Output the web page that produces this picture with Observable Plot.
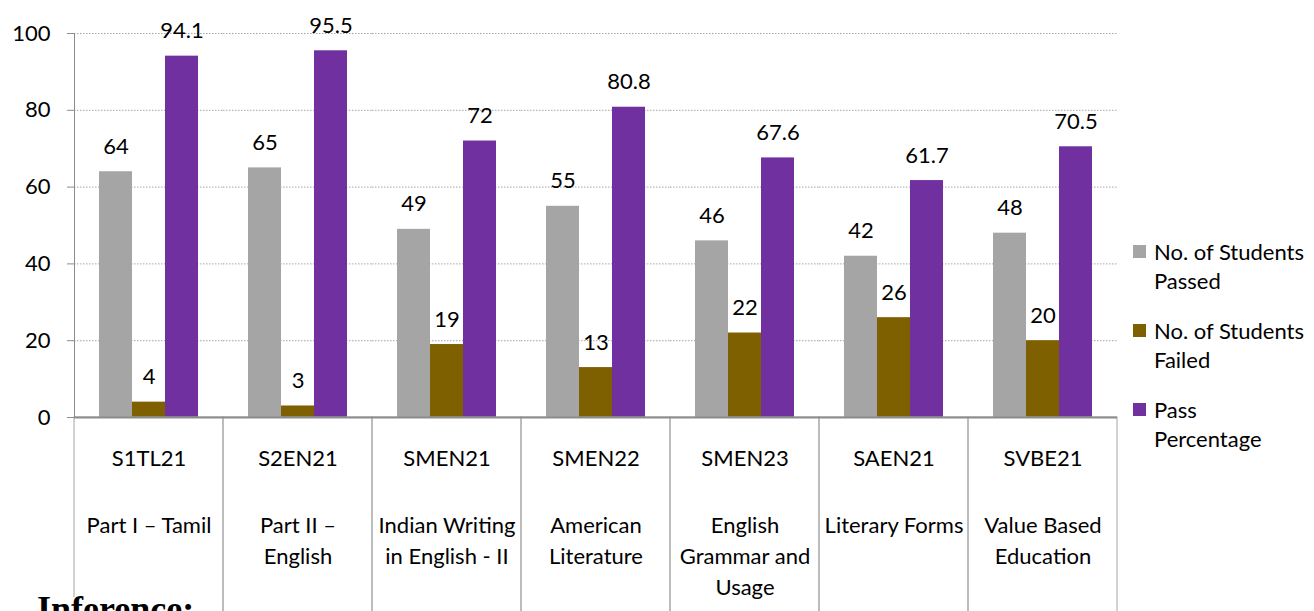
<!DOCTYPE html>
<html>
<head>
<meta charset="utf-8">
<script src="https://cdn.jsdelivr.net/npm/d3@7"></script>
<script src="https://cdn.jsdelivr.net/npm/@observablehq/plot@0.6"></script>
<style>
  html, body { margin: 0; padding: 0; background: #fff; }
  #wrap { position: relative; width: 1314px; height: 611px; overflow: hidden; font-family: Lato, sans-serif; }
  #legend { position: absolute; left: 1133px; top: 237px; font-size: 22px; line-height: 29px; color: #000; }
  .entry { display: flex; align-items: flex-start; margin-bottom: 21px; }
  .sw { width: 13px; height: 13px; margin-top: 8px; margin-right: 8px; flex: none; }
  #inference { position: absolute; left: 37px; top: 597px; font-family: "Liberation Serif", serif; font-weight: bold; font-size: 36px; line-height: 24px; background: #fff; color: #000; }
</style>
</head>
<body>
<div id="wrap">
  <div id="chart"></div>
  <div id="legend"></div>
  <div id="inference">Inference:</div>
</div>
<script>
// ---- data ----
const codes = ["S1TL21", "S2EN21", "SMEN21", "SMEN22", "SMEN23", "SAEN21", "SVBE21"];
const names = ["Part I – Tamil", "Part II –\nEnglish", "Indian Writing\nin English - II", "American\nLiterature", "English\nGrammar and\nUsage", "Literary Forms", "Value Based\nEducation"];
const seriesNames = ["No. of Students Passed", "No. of Students Failed", "Pass Percentage"];
const legendLines = [["No. of Students", "Passed"], ["No. of Students", "Failed"], ["Pass", "Percentage"]];
const passed = [64, 65, 49, 55, 46, 42, 48];
const failed = [4, 3, 19, 13, 22, 26, 20];
const passPct = [94.1, 95.5, 72, 80.8, 67.6, 61.7, 70.5];
const yTicks = [0, 20, 40, 60, 80, 100];
const colors = ["#A5A5A5", "#7F6000", "#7030A0"];

// ---- tables built from the arrays ----
const seriesValues = [passed, failed, passPct];
const rows = [];
codes.forEach((code, i) => {
  seriesNames.forEach((s, j) => rows.push({code, series: s, value: seriesValues[j][i]}));
});
const cats = codes.map((code, i) => ({code, name: names[i]}));

const chart = Plot.plot({
  width: 1314,
  height: 611,
  marginLeft: 71,
  marginRight: 194,
  marginTop: 33,
  marginBottom: 194,
  style: {fontFamily: "Lato, sans-serif", fontSize: "22px", color: "#000", background: "#fff", overflow: "visible"},
  fx: {domain: codes, padding: 0, axis: null},
  x: {domain: seriesNames, paddingInner: 0, paddingOuter: 0.75, axis: null},
  y: {domain: [0, 100]},
  color: {domain: seriesNames, range: colors},
  marks: [
    Plot.gridY(yTicks.filter(t => t > 0), {stroke: "#a6a6a6", strokeOpacity: 1, strokeDasharray: "1.5,1.5"}),
    Plot.barY(rows, {fx: "code", x: "series", y: "value", fill: "series"}),
    Plot.text(rows, {fx: "code", x: "series", y: "value", text: d => String(d.value), dy: -25, lineAnchor: "middle", fill: "#000"}),
    Plot.rect(cats, {fx: "code", y1: () => 0, y2: () => 0, insetBottom: -240, fill: "none", stroke: "#a6a6a6"}),
    Plot.ruleY([0], {stroke: "#8c8c8c", strokeWidth: 2}),
    Plot.frame({anchor: "left", facetAnchor: "left", stroke: "#8c8c8c"}),
    Plot.axisY(yTicks, {tickSize: 7, tickPadding: 17, stroke: "#8c8c8c", label: null, fill: "#000"}),
    Plot.text(cats, {fx: "code", text: "code", frameAnchor: "bottom", dy: 41, lineAnchor: "middle", fill: "#000"}),
    Plot.text(cats, {fx: "code", text: "name", frameAnchor: "bottom", dy: 94, lineAnchor: "top", lineHeight: 1.4, fill: "#000"})
  ]
});
document.getElementById("chart").appendChild(chart);

// ---- legend ----
const legend = document.getElementById("legend");
seriesNames.forEach((s, j) => {
  const e = document.createElement("div");
  e.className = "entry";
  const sw = document.createElement("div");
  sw.className = "sw";
  sw.style.background = colors[j];
  const t = document.createElement("div");
  t.innerHTML = legendLines[j].join("<br>");
  e.appendChild(sw);
  e.appendChild(t);
  legend.appendChild(e);
});
</script>
</body>
</html>
